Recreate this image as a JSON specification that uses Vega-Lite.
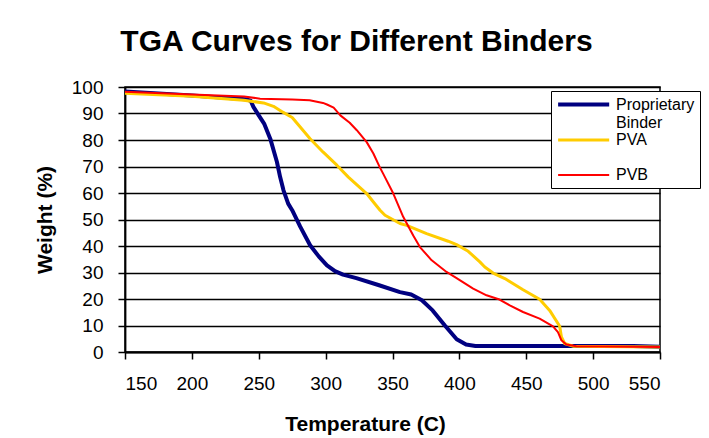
{
  "$schema": "https://vega.github.io/schema/vega-lite/v6.json",
  "width": 535,
  "height": 265,
  "autosize": {"type": "none"},
  "padding": {"left": 125, "top": 87, "right": 49, "bottom": 86},
  "background": "white",
  "title": {
    "text": "TGA Curves for Different Binders",
    "font": "Liberation Sans",
    "fontSize": 30,
    "fontWeight": "bold",
    "color": "black",
    "anchor": "middle",
    "frame": "group",
    "dx": -36,
    "offset": 21
  },
  "config": {
    "view": {"stroke": "black", "strokeWidth": 1.5, "fill": "white"},
    "axis": {
      "labelFont": "Liberation Sans",
      "titleFont": "Liberation Sans",
      "labelColor": "black",
      "titleColor": "black",
      "domainColor": "black",
      "tickColor": "black",
      "domainWidth": 1.8,
      "tickWidth": 1.5,
      "tickSize": 7,
      "labelFontSize": 19,
      "titleFontSize": 21,
      "titleFontWeight": "bold"
    }
  },
  "data": {
    "values": [
      {"series": "Proprietary Binder", "temp": 150, "weight": 98.3},
      {"series": "Proprietary Binder", "temp": 200, "weight": 96.8},
      {"series": "Proprietary Binder", "temp": 230, "weight": 95.8},
      {"series": "Proprietary Binder", "temp": 240, "weight": 95.4},
      {"series": "Proprietary Binder", "temp": 244, "weight": 94.8},
      {"series": "Proprietary Binder", "temp": 246, "weight": 92.5},
      {"series": "Proprietary Binder", "temp": 250, "weight": 89.3},
      {"series": "Proprietary Binder", "temp": 254, "weight": 86.2},
      {"series": "Proprietary Binder", "temp": 258.6, "weight": 80.5},
      {"series": "Proprietary Binder", "temp": 263.6, "weight": 71.7},
      {"series": "Proprietary Binder", "temp": 266, "weight": 66},
      {"series": "Proprietary Binder", "temp": 268.5, "weight": 61},
      {"series": "Proprietary Binder", "temp": 272, "weight": 56},
      {"series": "Proprietary Binder", "temp": 275, "weight": 53.5},
      {"series": "Proprietary Binder", "temp": 281, "weight": 47.3},
      {"series": "Proprietary Binder", "temp": 288.4, "weight": 40.3},
      {"series": "Proprietary Binder", "temp": 295, "weight": 36},
      {"series": "Proprietary Binder", "temp": 301, "weight": 32.7},
      {"series": "Proprietary Binder", "temp": 307, "weight": 30.5},
      {"series": "Proprietary Binder", "temp": 313, "weight": 29.2},
      {"series": "Proprietary Binder", "temp": 323, "weight": 27.9},
      {"series": "Proprietary Binder", "temp": 340, "weight": 25.2},
      {"series": "Proprietary Binder", "temp": 355.6, "weight": 22.6},
      {"series": "Proprietary Binder", "temp": 364, "weight": 21.7},
      {"series": "Proprietary Binder", "temp": 372, "weight": 19.5},
      {"series": "Proprietary Binder", "temp": 380, "weight": 15.7},
      {"series": "Proprietary Binder", "temp": 389, "weight": 10.1},
      {"series": "Proprietary Binder", "temp": 398, "weight": 4.8},
      {"series": "Proprietary Binder", "temp": 405, "weight": 2.8},
      {"series": "Proprietary Binder", "temp": 412, "weight": 2.3},
      {"series": "Proprietary Binder", "temp": 530, "weight": 2.3},
      {"series": "Proprietary Binder", "temp": 550, "weight": 2.0},
      {"series": "PVA", "temp": 150, "weight": 97.6},
      {"series": "PVA", "temp": 200, "weight": 96.5},
      {"series": "PVA", "temp": 238.7, "weight": 95.0},
      {"series": "PVA", "temp": 253.6, "weight": 94.0},
      {"series": "PVA", "temp": 261, "weight": 92.7},
      {"series": "PVA", "temp": 268, "weight": 90.5},
      {"series": "PVA", "temp": 275, "weight": 88.5},
      {"series": "PVA", "temp": 288.4, "weight": 80.5},
      {"series": "PVA", "temp": 298, "weight": 75.5},
      {"series": "PVA", "temp": 308.4, "weight": 70.5},
      {"series": "PVA", "temp": 317, "weight": 66},
      {"series": "PVA", "temp": 325.7, "weight": 62},
      {"series": "PVA", "temp": 330.7, "weight": 59.8},
      {"series": "PVA", "temp": 335.7, "weight": 56.6},
      {"series": "PVA", "temp": 340.7, "weight": 53.5},
      {"series": "PVA", "temp": 344.4, "weight": 51.6},
      {"series": "PVA", "temp": 355.6, "weight": 48.5},
      {"series": "PVA", "temp": 360.6, "weight": 47.8},
      {"series": "PVA", "temp": 375.5, "weight": 44.7},
      {"series": "PVA", "temp": 391.6, "weight": 41.8},
      {"series": "PVA", "temp": 397.9, "weight": 40.5},
      {"series": "PVA", "temp": 406.6, "weight": 38},
      {"series": "PVA", "temp": 415.3, "weight": 34},
      {"series": "PVA", "temp": 419, "weight": 32.1},
      {"series": "PVA", "temp": 425.2, "weight": 29.8},
      {"series": "PVA", "temp": 434, "weight": 27.7},
      {"series": "PVA", "temp": 447.6, "weight": 23.5},
      {"series": "PVA", "temp": 460, "weight": 19.9},
      {"series": "PVA", "temp": 467.5, "weight": 15.7},
      {"series": "PVA", "temp": 475, "weight": 9.7},
      {"series": "PVA", "temp": 476.3, "weight": 5.7},
      {"series": "PVA", "temp": 478.7, "weight": 3.2},
      {"series": "PVA", "temp": 484.9, "weight": 2.2},
      {"series": "PVA", "temp": 550, "weight": 1.9},
      {"series": "PVB", "temp": 150, "weight": 98.2},
      {"series": "PVB", "temp": 200, "weight": 97.2},
      {"series": "PVB", "temp": 239, "weight": 96.4},
      {"series": "PVB", "temp": 251, "weight": 95.6},
      {"series": "PVB", "temp": 275, "weight": 95.3},
      {"series": "PVB", "temp": 288, "weight": 95.0},
      {"series": "PVB", "temp": 298, "weight": 94.0},
      {"series": "PVB", "temp": 301, "weight": 93.4},
      {"series": "PVB", "temp": 306, "weight": 92.2},
      {"series": "PVB", "temp": 311, "weight": 89.3},
      {"series": "PVB", "temp": 318, "weight": 86.5},
      {"series": "PVB", "temp": 323.3, "weight": 83.7},
      {"series": "PVB", "temp": 330.7, "weight": 79.2},
      {"series": "PVB", "temp": 335.7, "weight": 74.9},
      {"series": "PVB", "temp": 340.7, "weight": 69.5},
      {"series": "PVB", "temp": 343, "weight": 67.3},
      {"series": "PVB", "temp": 350.6, "weight": 59.8},
      {"series": "PVB", "temp": 358, "weight": 51},
      {"series": "PVB", "temp": 365.5, "weight": 44},
      {"series": "PVB", "temp": 370.5, "weight": 39.6},
      {"series": "PVB", "temp": 379.3, "weight": 34.6},
      {"series": "PVB", "temp": 390.4, "weight": 30.2},
      {"series": "PVB", "temp": 397.9, "weight": 27.9},
      {"series": "PVB", "temp": 410.3, "weight": 23.9},
      {"series": "PVB", "temp": 420.3, "weight": 21.4},
      {"series": "PVB", "temp": 430, "weight": 19.8},
      {"series": "PVB", "temp": 437.7, "weight": 17.6},
      {"series": "PVB", "temp": 447.6, "weight": 15.1},
      {"series": "PVB", "temp": 460, "weight": 12.6},
      {"series": "PVB", "temp": 470, "weight": 9.7},
      {"series": "PVB", "temp": 473.7, "weight": 7.5},
      {"series": "PVB", "temp": 476.3, "weight": 4.4},
      {"series": "PVB", "temp": 480, "weight": 2.8},
      {"series": "PVB", "temp": 487.5, "weight": 2.2},
      {"series": "PVB", "temp": 550, "weight": 1.9}
    ]
  },
  "mark": {"type": "line", "interpolate": "linear", "strokeJoin": "round", "strokeCap": "butt"},
  "encoding": {
    "x": {
      "field": "temp",
      "type": "quantitative",
      "title": "Temperature (C)",
      "scale": {"domain": [150, 550], "nice": false, "zero": false},
      "axis": {
        "values": [150, 200, 250, 300, 350, 400, 450, 500, 550],
        "grid": false,
        "labelPadding": 15,
        "titlePadding": 20,
        "titleX": 240,
        "titleAlign": "center"
      }
    },
    "y": {
      "field": "weight",
      "type": "quantitative",
      "title": "Weight (%)",
      "scale": {"domain": [0, 100], "nice": false},
      "axis": {
        "values": [0, 10, 20, 30, 40, 50, 60, 70, 80, 90, 100],
        "grid": true,
        "gridColor": "black",
        "gridWidth": 1.5,
        "gridOpacity": 1,
        "labelPadding": 15,
        "titlePadding": 16
      }
    },
    "color": {
      "field": "series",
      "type": "nominal",
      "title": null,
      "scale": {
        "domain": ["Proprietary Binder", "PVA", "PVB"],
        "range": ["#000080", "#FFCC00", "#FF0000"]
      },
      "legend": {
        "orient": "none",
        "legendX": 426,
        "legendY": 4,
        "symbolType": "M-1,0L7,0",
        "symbolSize": 163,
        "labelFont": "Liberation Sans",
        "labelFontSize": 16,
        "labelColor": "black",
        "labelBaseline": "alphabetic",
        "labelOffset": 43,
        "labelLimit": 0,
        "labelExpr": "datum.label == 'Proprietary Binder' ? ['Proprietary', 'Binder'] : datum.label == 'PVA' ? ['PVA', ''] : datum.label",
        "strokeColor": "black",
        "fillColor": "white",
        "padding": 5,
        "rowPadding": 1,
        "encode": {"labels": {"update": {"dy": {"value": 5}, "lineHeight": {"value": 18}}}}
      }
    },
    "strokeWidth": {
      "field": "series",
      "type": "nominal",
      "title": null,
      "scale": {
        "domain": ["Proprietary Binder", "PVA", "PVB"],
        "range": [4, 2, 2]
      }
    }
  }
}
